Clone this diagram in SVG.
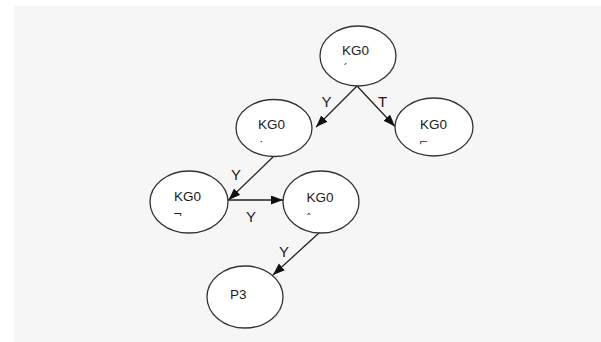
<svg xmlns="http://www.w3.org/2000/svg" width="601" height="342" viewBox="0 0 601 342">
<style>
.node ellipse{fill:#fff;stroke:#333;stroke-width:1.3}
.t{font-family:"Liberation Sans",Arial,sans-serif;font-size:13.5px;fill:#1a1a1a}
.m{font-family:"DejaVu Sans","Liberation Sans",sans-serif;font-size:11px;fill:#1a1a1a}
.lbl{font-family:"Liberation Sans",Arial,sans-serif;font-size:15px;fill:#1a1a1a;text-anchor:middle}
.edges line{stroke:#222;stroke-width:1.3;marker-end:url(#arr)}
</style>
<defs>
<marker id="arr" markerUnits="userSpaceOnUse" markerWidth="13" markerHeight="10" refX="12" refY="4.5" orient="auto">
<path d="M0,0 L12,4.5 L0,9 z" fill="#111"/>
</marker>
</defs>
<rect x="14" y="6" width="587" height="336" fill="#f6f6f6"/>
<g class="edges" id="connectors">
<line x1="357" y1="86" x2="316" y2="127"/>
<line x1="357" y1="86" x2="395" y2="126.5"/>
<line x1="273" y1="157" x2="228.5" y2="200"/>
<line x1="228" y1="200" x2="283" y2="200"/>
<line x1="320" y1="232" x2="273" y2="275"/>
<text class="lbl" x="326.5" y="106.5">Y</text>
<text class="lbl" x="382.5" y="106.5">T</text>
<text class="lbl" x="236" y="180">Y</text>
<text class="lbl" x="251" y="222">Y</text>
<text class="lbl" x="284" y="256.5">Y</text>
</g>
<g class="node" id="n1">
<ellipse cx="358" cy="56" rx="38" ry="30"/>
<text class="t" x="342" y="55">KG0</text>
<text class="m" x="342" y="72">ˊ</text>
</g>
<g class="node" id="n2">
<ellipse cx="274" cy="128" rx="38" ry="28.5"/>
<text class="t" x="258" y="128.5">KG0</text>
<text class="m" x="259.5" y="145">·</text>
</g>
<g class="node" id="n3">
<ellipse cx="434" cy="127" rx="39" ry="29"/>
<text class="t" x="420" y="128.5">KG0</text>
<text class="m" x="419" y="146">⌐</text>
</g>
<g class="node" id="n4">
<ellipse cx="189" cy="202" rx="39" ry="31"/>
<text class="t" x="174" y="201">KG0</text>
<text class="m" x="173" y="218">¬</text>
</g>
<g class="node" id="n5">
<ellipse cx="321" cy="202" rx="38" ry="31"/>
<text class="t" x="306.5" y="201.5">KG0</text>
<text class="m" x="306" y="222">ˆ</text>
</g>
<g class="node" id="n6">
<ellipse cx="245" cy="297" rx="38" ry="31"/>
<text class="t" x="230" y="298.5">P3</text>
</g>
</svg>
